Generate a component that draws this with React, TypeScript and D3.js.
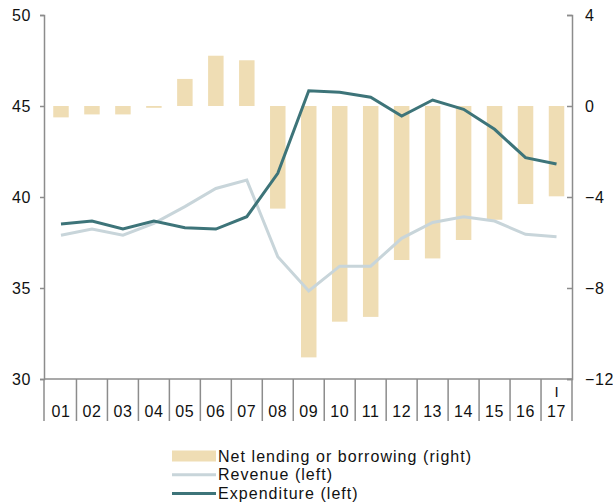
import React, { useEffect, useRef } from 'react';
import * as d3 from 'd3';

// Data
const years = ['01', '02', '03', '04', '05', '06', '07', '08', '09', '10', '11', '12', '13', '14', '15', '16', '17'];
const netLending = [-0.5, -0.37, -0.37, -0.08, 1.19, 2.21, 2.01, -4.51, -11.05, -9.48, -9.27, -6.77, -6.7, -5.89, -5.0, -4.31, -3.97];
const revenue = [37.9, 38.24, 37.9, 38.55, 39.47, 40.47, 40.93, 36.72, 34.84, 36.2, 36.2, 37.73, 38.6, 38.92, 38.68, 37.95, 37.82];
const expenditure = [38.52, 38.68, 38.24, 38.68, 38.31, 38.24, 38.92, 41.3, 45.84, 45.75, 45.48, 44.45, 45.33, 44.82, 43.72, 42.16, 41.81];
const leftTicks = [30, 35, 40, 45, 50];
const rightTicks = [-12, -8, -4, 0, 4];

const App = () => {
  const chartRef = useRef<SVGSVGElement>(null);

  useEffect(() => {
    const width = 613;
    const height = 504;
    const margin = { top: 15, right: 41, bottom: 125, left: 44 };
    const font = '"Liberation Sans", Arial, sans-serif';

    const svg = d3.select(chartRef.current);
    svg.selectAll('*').remove();

    const x = d3.scaleBand<string>()
      .domain(years)
      .range([margin.left + 1.5, width - margin.right])
      .paddingInner(0.5)
      .paddingOuter(0.25);

    const step = x.step();
    const cx = (d: string) => (x(d) as number) + x.bandwidth() / 2;

    const yLeft = d3.scaleLinear().domain([30, 50]).range([height - margin.bottom, margin.top]);
    const yRight = d3.scaleLinear().domain([-12, 4]).range([height - margin.bottom, margin.top]);

    // bars (right axis)
    svg.append('g')
      .selectAll('rect')
      .data(netLending)
      .join('rect')
      .attr('x', (_, i) => x(years[i]) as number)
      .attr('width', x.bandwidth())
      .attr('y', d => yRight(Math.max(0, d)))
      .attr('height', d => Math.abs(yRight(d) - yRight(0)))
      .attr('fill', '#efddb4');

    const line = d3.line<number>()
      .x((_, i) => cx(years[i]))
      .y(d => yLeft(d));

    svg.append('path')
      .datum(revenue)
      .attr('d', line)
      .attr('fill', 'none')
      .attr('stroke', '#c8d5da')
      .attr('stroke-width', 3);

    svg.append('path')
      .datum(expenditure)
      .attr('d', line)
      .attr('fill', 'none')
      .attr('stroke', '#3d7479')
      .attr('stroke-width', 3);

    const axisColor = '#8c8c8c';

    // left axis
    const left = svg.append('g').attr('transform', `translate(${margin.left}, 0)`)
      .call(d3.axisLeft(yLeft).tickValues(leftTicks).tickSize(4).tickPadding(9));
    // right axis
    const right = svg.append('g').attr('transform', `translate(${width - margin.right}, 0)`)
      .call(d3.axisRight(yRight).tickValues(rightTicks).tickSize(-5).tickPadding(13));
    right.selectAll('text').attr('text-anchor', 'start').attr('dx', 0);

    [left, right].forEach(g => {
      g.select('.domain').attr('stroke', axisColor).attr('stroke-width', 1.5);
      g.selectAll('.tick line').attr('stroke', axisColor).attr('stroke-width', 1.5);
      g.selectAll('.tick text')
        .attr('font-family', font)
        .attr('font-size', 16)
        .attr('letter-spacing', 0.6)
        .attr('fill', '#111');
    });

    // bottom axis with category dividers
    const baseY = height - margin.bottom;
    const bottom = svg.append('g');
    bottom.append('line')
      .attr('x1', margin.left).attr('x2', width - margin.right)
      .attr('y1', baseY).attr('y2', baseY)
      .attr('stroke', axisColor).attr('stroke-width', 1.5);

    const edges = years.map(d => cx(d) - step / 2).concat([cx(years[years.length - 1]) + step / 2]);
    edges[0] = margin.left;
    edges[edges.length - 1] = width - margin.right;
    bottom.selectAll('line.div')
      .data(edges)
      .join('line')
      .attr('class', 'div')
      .attr('x1', d => d).attr('x2', d => d)
      .attr('y1', baseY).attr('y2', baseY + 42)
      .attr('stroke', axisColor).attr('stroke-width', 1.5);

    bottom.selectAll('text.year')
      .data(years)
      .join('text')
      .attr('class', 'year')
      .attr('x', d => cx(d))
      .attr('y', baseY + 38)
      .attr('text-anchor', 'middle')
      .attr('font-family', font)
      .attr('font-size', 16)
      .attr('letter-spacing', 0.6)
      .attr('fill', '#111')
      .text(d => d);

    bottom.append('text')
      .attr('x', cx(years[years.length - 1]))
      .attr('y', baseY + 18)
      .attr('text-anchor', 'middle')
      .attr('font-family', font)
      .attr('font-size', 15)
      .attr('fill', '#111')
      .text('I');

    // legend
    const legendItems = [
      { label: 'Net lending or borrowing (right)', type: 'bar', color: '#efddb4' },
      { label: 'Revenue (left)', type: 'line', color: '#c8d5da' },
      { label: 'Expenditure (left)', type: 'line', color: '#3d7479' },
    ];
    const legend = svg.append('g').attr('transform', 'translate(172, 456)');
    legendItems.forEach((item, i) => {
      const g = legend.append('g').attr('transform', `translate(0, ${i * 18.8})`);
      if (item.type === 'bar') {
        g.append('rect').attr('x', 0).attr('y', -5.5).attr('width', 44).attr('height', 11).attr('fill', item.color);
      } else {
        g.append('line').attr('x1', 0).attr('x2', 44).attr('y1', 0).attr('y2', 0)
          .attr('stroke', item.color).attr('stroke-width', 3);
      }
      g.append('text')
        .attr('x', 46)
        .attr('y', 0)
        .attr('dy', '0.35em')
        .attr('font-family', font)
        .attr('font-size', 16)
        .attr('letter-spacing', 1.05)
        .attr('fill', '#111')
        .text(item.label);
    });
  }, []);

  return (
    <svg ref={chartRef} width={613} height={504}
      style={{ position: 'absolute', left: 0, top: 0, background: '#fff' }} />
  );
};

export default App;
